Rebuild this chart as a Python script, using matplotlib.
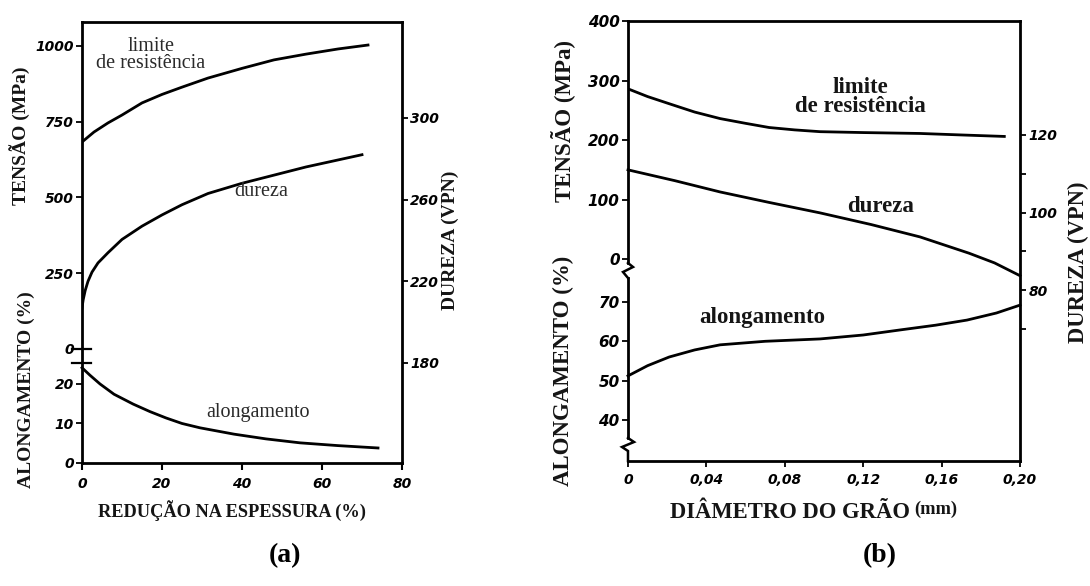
import matplotlib.pyplot as plt
from matplotlib.lines import Line2D

W, H = 1090, 586

# (a) encruamento -- redução na espessura (%)
red_lim = [0, 3, 6.5, 10, 15, 20, 25, 31.5, 40, 48, 56, 64, 71.5]
lim_a = [683, 716, 746, 772, 812, 840, 864, 894, 926, 954, 973, 990, 1003]
red_dur = [0, 0.3, 0.8, 1.5, 2.5, 4, 6.5, 10, 15, 20, 25, 31.5, 40, 48, 56, 63, 70]
dur_a = [207, 211, 215.5, 220, 224.5, 229, 234, 240.5, 247, 252.5, 257.5, 263, 268, 272, 276, 279, 282]
red_al = [0, 2, 4.5, 8, 12.8, 17, 21, 25, 29.5, 38, 46, 54.5, 64, 74]
al_a = [24.1, 22.2, 20, 17.4, 14.9, 13.0, 11.4, 10.0, 8.9, 7.3, 6.1, 5.1, 4.4, 3.8]

# (b) tamanho de grão -- diâmetro do grão (mm)
dg_lim = [0, 0.01, 0.021, 0.034, 0.047, 0.06, 0.072, 0.085, 0.098, 0.12, 0.149, 0.17, 0.192]
lim_b = [286, 273, 261, 247, 236, 228, 221, 217, 214, 212.5, 211, 208.5, 206]
dg_dur = [0, 0.024, 0.047, 0.072, 0.098, 0.124, 0.149, 0.174, 0.187, 0.2]
dur_b = [111, 108.2, 105.3, 102.6, 99.9, 96.9, 93.7, 89.5, 87.0, 83.7]
dg_al = [0, 0.01, 0.021, 0.034, 0.047, 0.07, 0.098, 0.12, 0.139, 0.157, 0.173, 0.188, 0.2]
al_b = [51.2, 53.8, 56.0, 57.8, 59.1, 60.0, 60.6, 61.6, 62.9, 64.1, 65.4, 67.2, 69.2]

# ticks
tk_red = [0, 20, 40, 60, 80]
tk_mpa_a = [0, 250, 500, 750, 1000]
tk_al_a = [0, 10, 20]
tk_vpn_a = [180, 220, 260, 300]
tk_dg = [0, 0.04, 0.08, 0.12, 0.16, 0.20]
lb_dg = ["0", "0,04", "0,08", "0,12", "0,16", "0,20"]
tk_mpa_b = [0, 100, 200, 300, 400]
tk_al_b = [40, 50, 60, 70]
tk_vpn_b = [80, 100, 120]
tk_vpn_b_min = [70, 90, 110]

SERIF = "Liberation Serif"
LW = 2.0
TXT = "#151515"
tickfont = dict(fontstyle="italic", fontweight="bold", fontsize=10, family="DejaVu Sans")
tickfont_b = dict(tickfont, fontsize=11)


def px(x0, y0, x1, y1):
    # caixa em pixels da figura -> retangulo em fracao
    return [x0 / W, 1 - y1 / H, (x1 - x0) / W, (y1 - y0) / H]


def fx(x, y):
    return x / W, 1 - y / H


def bare(ax):
    ax.patch.set_visible(False)
    for s in ax.spines.values():
        s.set_visible(False)
    ax.xaxis.set_visible(False)


def ftext(x, y, s, **kw):
    base = dict(ha="center", va="center", color=TXT, family=SERIF)
    base.update(kw)
    fig.text(*fx(x, y), s, **base)


def fline(xs, ys, lw=LW):
    fig.add_artist(Line2D([x / W for x in xs], [1 - y / H for y in ys],
                          transform=fig.transFigure, color="k", lw=lw,
                          solid_joinstyle="miter"))


fig = plt.figure(figsize=(W / 100, H / 100), dpi=100)

# ---------------- painel (a) ----------------
fa = fig.add_axes(px(82, 22, 402, 463))
fa.set_xlim(0, 80)
fa.set_xticks(tk_red, labels=[str(t) for t in tk_red], **tickfont)
fa.set_yticks([])
for s in fa.spines.values():
    s.set_linewidth(LW)
fa.tick_params(axis="x", direction="out", length=5, width=1.5, pad=5)

ta = fig.add_axes(px(82, 22, 402, 349))
bare(ta)
ta.set_xlim(0, 80)
ta.set_ylim(0, 1079)
ta.set_yticks(tk_mpa_a, labels=[str(t) for t in tk_mpa_a], **tickfont)
ta.tick_params(axis="y", direction="out", length=4, width=1.3, pad=2)
ta.plot(red_lim, lim_a, color="k", lw=LW)

la = fig.add_axes(px(82, 363, 402, 463))
bare(la)
la.set_xlim(0, 80)
la.set_ylim(0, 25.3)
la.set_yticks(tk_al_a, labels=[str(t) for t in tk_al_a], **tickfont)
la.tick_params(axis="y", direction="out", length=4, width=1.3, pad=2)
la.plot(red_al, al_a, color="k", lw=LW, clip_on=False)

ra = fig.add_axes(px(82, 22, 402, 463))
bare(ra)
ra.set_xlim(0, 80)
ra.set_ylim(131, 347)
ra.yaxis.tick_right()
ra.set_yticks(tk_vpn_a, labels=[str(t) for t in tk_vpn_a], **tickfont)
ra.tick_params(axis="y", direction="out", length=4, width=1.3, pad=2)
ra.plot(red_dur, dur_a, color="k", lw=LW)

# quebra do eixo esquerdo
fline([72, 91], [349, 349], lw=1.6)
fline([72, 91], [363, 363], lw=1.6)

ftext(151, 55, "limite\nde resistência", fontsize=14.5, linespacing=0.9, color="#2a2a2a")
ftext(261, 192, "dureza", fontsize=14.5, color="#2a2a2a")
ftext(258, 413, "alongamento", fontsize=14.5, color="#2a2a2a")

ftext(20, 136, "TENSÃO (MPa)", rotation=90, fontsize=14, fontweight="bold")
ftext(26, 390, "ALONGAMENTO (%)", rotation=90, fontsize=14, fontweight="bold")
ftext(450, 240, "DUREZA (VPN)", rotation=90, fontsize=14, fontweight="bold")
ftext(232, 511, "REDUÇÃO NA ESPESSURA (%)", fontsize=13.2, fontweight="bold")
ftext(285, 556, "(a)", fontsize=20, fontweight="bold", color="k")

# ---------------- painel (b) ----------------
fb = fig.add_axes(px(628, 21, 1020, 461))
fb.set_xlim(0, 0.2)
fb.set_xticks(tk_dg, labels=lb_dg, **tickfont)
fb.set_yticks([])
for s in fb.spines.values():
    s.set_linewidth(LW)
fb.spines["left"].set_visible(False)
fb.tick_params(axis="x", direction="out", length=4, width=1.3, pad=5)

tb = fig.add_axes(px(628, 21, 1020, 263))
bare(tb)
tb.spines["left"].set_visible(True)
tb.spines["left"].set_linewidth(LW)
tb.set_xlim(0, 0.2)
tb.set_ylim(-6.7, 400)
tb.set_yticks(tk_mpa_b, labels=[str(t) for t in tk_mpa_b], **tickfont_b)
tb.tick_params(axis="y", direction="out", length=4, width=1.3, pad=2)
tb.plot(dg_lim, lim_b, color="k", lw=LW)

lb = fig.add_axes(px(628, 278, 1020, 438))
bare(lb)
lb.spines["left"].set_visible(True)
lb.spines["left"].set_linewidth(LW)
lb.set_xlim(0, 0.2)
lb.set_ylim(35.4, 76.1)
lb.set_yticks(tk_al_b, labels=[str(t) for t in tk_al_b], **tickfont_b)
lb.tick_params(axis="y", direction="out", length=4, width=1.3, pad=2)
lb.plot(dg_al, al_b, color="k", lw=LW, clip_on=False)

rb = fig.add_axes(px(628, 21, 1020, 461))
bare(rb)
rb.set_xlim(0, 0.2)
rb.set_ylim(35.9, 149.4)
rb.yaxis.tick_right()
rb.set_yticks(tk_vpn_b, labels=[str(t) for t in tk_vpn_b], **tickfont)
rb.set_yticks(tk_vpn_b_min, minor=True)
rb.tick_params(axis="y", which="both", direction="out", length=4, width=1.3, pad=2)
rb.plot(dg_dur, dur_b, color="k", lw=LW, clip_on=False)

# zigue-zagues da quebra no eixo esquerdo
fline([628, 633, 623, 628], [263, 267, 272, 278], lw=1.8)
fline([628, 634, 622, 628, 628], [438, 442, 447, 451, 461], lw=1.8)

ftext(860, 97, "limite\nde resistência", fontsize=16.5, fontweight="bold", linespacing=0.9)
ftext(881, 207, "dureza", fontsize=16.5, fontweight="bold")
ftext(762, 317, "alongamento", fontsize=16.5, fontweight="bold")

ftext(563, 121, "TENSÃO (MPa)", rotation=90, fontsize=16.5, fontweight="bold")
ftext(563, 371, "ALONGAMENTO (%)", rotation=90, fontsize=16.5, fontweight="bold")
ftext(1078, 262, "DUREZA (VPN)", rotation=90, fontsize=16.3, fontweight="bold")
ftext(910, 512, "DIÂMETRO DO GRÃO", ha="right", fontsize=16.3, fontweight="bold")
ftext(914, 509, "(mm)", ha="left", fontsize=13.3, fontweight="bold")
ftext(880, 556, "(b)", fontsize=20, fontweight="bold", color="k")

fig.savefig("out.png", dpi=100, facecolor="white")
